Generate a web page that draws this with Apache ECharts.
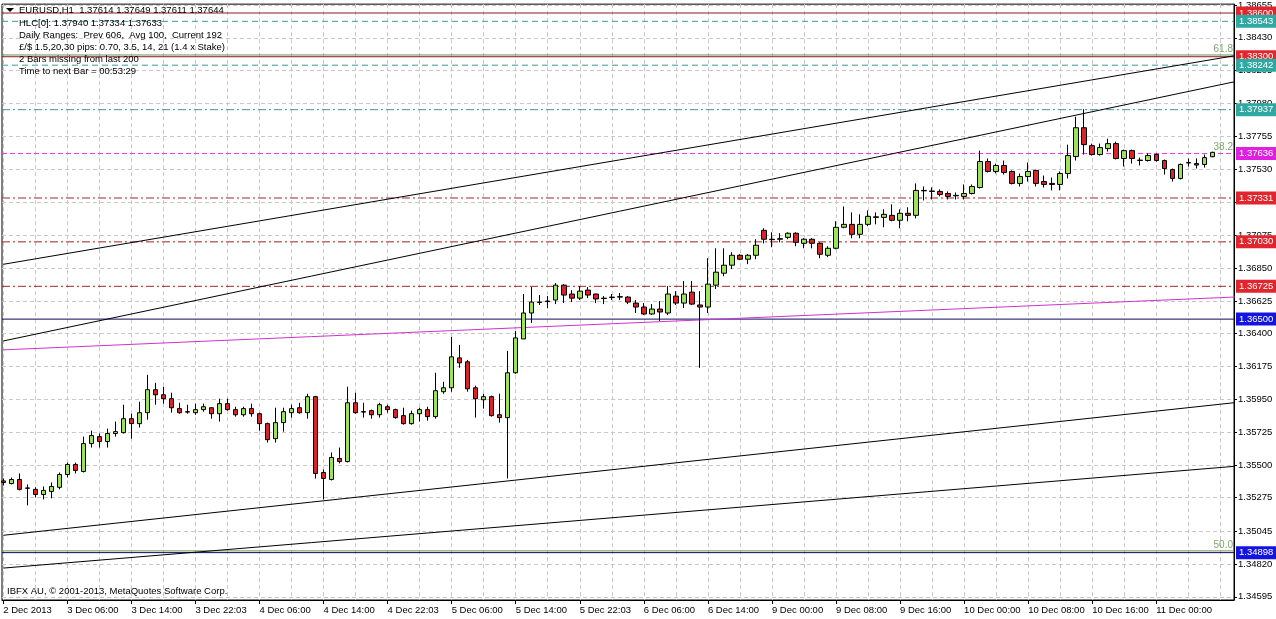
<!DOCTYPE html>
<html><head><meta charset="utf-8">
<script src="https://cdn.jsdelivr.net/npm/echarts@6/dist/echarts.min.js"></script>
<style>html,body{margin:0;padding:0;background:#fff}#c{width:1276px;height:619px}</style>
</head><body><div id="c"></div>
<script>
// ---- data ----
const xTickIndex = [0,8,16,24,32,40,48,56,64,72,80,88,96,104,112,120,128,136,144];
const xTickLabels = ['2 Dec 2013','3 Dec 06:00','3 Dec 14:00','3 Dec 22:03','4 Dec 06:00','4 Dec 14:00','4 Dec 22:03','5 Dec 06:00','5 Dec 14:00','5 Dec 22:03','6 Dec 06:00','6 Dec 14:00','9 Dec 00:00','9 Dec 08:00','9 Dec 16:00','10 Dec 00:00','10 Dec 08:00','10 Dec 16:00','11 Dec 00:00'];
const yTickLabels = ['1.38655','1.38430','1.38205','1.37980','1.37755','1.37530','1.37305','1.37075','1.36850','1.36625','1.36400','1.36175','1.35950','1.35725','1.35500','1.35275','1.35045','1.34820','1.34595'];
// [open, close, low, high] hourly EURUSD
const candles = [
[1.35390,1.35379,1.35359,1.35407],[1.35372,1.35400,1.35366,1.35413],[1.35400,1.35332,1.35325,1.35441],[1.35339,1.35342,1.35222,1.35366],
[1.35332,1.35297,1.35277,1.35346],[1.35297,1.35325,1.35263,1.35352],[1.35318,1.35352,1.35270,1.35379],[1.35346,1.35434,1.35332,1.35448],
[1.35434,1.35503,1.35414,1.35516],[1.35503,1.35462,1.35441,1.35516],[1.35455,1.35646,1.35448,1.35694],[1.35646,1.35701,1.35619,1.35735],
[1.35694,1.35660,1.35619,1.35715],[1.35660,1.35715,1.35619,1.35749],[1.35715,1.35728,1.35694,1.35797],[1.35721,1.35817,1.35715,1.35913],
[1.35817,1.35783,1.35680,1.35851],[1.35783,1.35858,1.35756,1.35933],[1.35858,1.36016,1.35810,1.36118],[1.36016,1.35981,1.35913,1.36063],
[1.35981,1.35954,1.35920,1.36036],[1.35954,1.35892,1.35858,1.35995],[1.35886,1.35858,1.35851,1.35926],[1.35865,1.35862,1.35851,1.35913],
[1.35858,1.35879,1.35844,1.35920],[1.35879,1.35899,1.35865,1.35920],[1.35892,1.35851,1.35817,1.35895],[1.35851,1.35920,1.35797,1.35954],
[1.35920,1.35879,1.35872,1.35954],[1.35879,1.35844,1.35831,1.35899],[1.35844,1.35886,1.35831,1.35899],[1.35886,1.35851,1.35831,1.35920],
[1.35851,1.35783,1.35735,1.35858],[1.35783,1.35673,1.35653,1.35790],[1.35680,1.35790,1.35653,1.35892],[1.35790,1.35865,1.35728,1.35892],
[1.35858,1.35886,1.35824,1.35913],[1.35892,1.35858,1.35851,1.35926],[1.35858,1.35968,1.35817,1.35988],[1.35968,1.35441,1.35407,1.35974],
[1.35448,1.35407,1.35263,1.35468],[1.35400,1.35551,1.35393,1.35585],[1.35544,1.35523,1.35510,1.35619],[1.35523,1.35926,1.35516,1.36036],
[1.35926,1.35858,1.35851,1.35995],[1.35865,1.35862,1.35824,1.35926],[1.35872,1.35844,1.35817,1.35879],[1.35844,1.35913,1.35824,1.35926],
[1.35899,1.35879,1.35858,1.35913],[1.35879,1.35824,1.35817,1.35886],[1.35838,1.35783,1.35776,1.35892],[1.35783,1.35851,1.35776,1.35872],
[1.35851,1.35879,1.35797,1.35892],[1.35879,1.35831,1.35803,1.35899],[1.35831,1.36009,1.35817,1.36132],[1.36002,1.36029,1.35988,1.36070],
[1.36029,1.36241,1.36002,1.36378],[1.36234,1.36200,1.36166,1.36323],[1.36207,1.36022,1.36002,1.36220],[1.36029,1.35954,1.35824,1.36043],
[1.35947,1.35968,1.35886,1.35988],[1.35968,1.35838,1.35831,1.35975],[1.35844,1.35824,1.35790,1.35988],[1.35824,1.36132,1.35407,1.36282],
[1.36132,1.36371,1.36125,1.36419],[1.36364,1.36542,1.36364,1.36672],[1.36542,1.36617,1.36474,1.36720],[1.36617,1.36614,1.36597,1.36665],
[1.36624,1.36620,1.36576,1.36658],[1.36631,1.36733,1.36603,1.36747],[1.36733,1.36665,1.36610,1.36740],[1.36672,1.36644,1.36617,1.36699],
[1.36644,1.36692,1.36631,1.36726],[1.36699,1.36665,1.36644,1.36720],[1.36672,1.36638,1.36610,1.36675],[1.36644,1.36641,1.36603,1.36658],
[1.36651,1.36648,1.36631,1.36672],[1.36651,1.36654,1.36631,1.36679],[1.36651,1.36617,1.36603,1.36658],[1.36610,1.36583,1.36542,1.36631],
[1.36583,1.36535,1.36528,1.36610],[1.36535,1.36569,1.36528,1.36603],[1.36569,1.36549,1.36487,1.36624],[1.36542,1.36672,1.36528,1.36726],
[1.36658,1.36610,1.36597,1.36692],[1.36610,1.36672,1.36576,1.36761],[1.36685,1.36603,1.36597,1.36761],[1.36597,1.36583,1.36166,1.36692],
[1.36583,1.36740,1.36542,1.36918],[1.36733,1.36822,1.36706,1.36986],[1.36815,1.36870,1.36795,1.36986],[1.36870,1.36938,1.36843,1.36959],
[1.36938,1.36911,1.36904,1.36945],[1.36911,1.36938,1.36877,1.36945],[1.36938,1.37007,1.36911,1.37048],[1.37109,1.37048,1.37020,1.37123],
[1.37048,1.37045,1.36993,1.37096],[1.37048,1.37052,1.37027,1.37089],[1.37061,1.37089,1.37048,1.37096],[1.37089,1.37027,1.37000,1.37096],
[1.37020,1.37048,1.36986,1.37055],[1.37048,1.37020,1.36986,1.37055],[1.37020,1.36945,1.36918,1.37027],[1.36938,1.36986,1.36925,1.37000],
[1.36986,1.37130,1.36979,1.37171],[1.37130,1.37150,1.37123,1.37273],[1.37150,1.37082,1.37055,1.37232],[1.37082,1.37150,1.37055,1.37219],
[1.37150,1.37205,1.37137,1.37246],[1.37198,1.37202,1.37150,1.37232],[1.37198,1.37219,1.37130,1.37253],[1.37212,1.37178,1.37171,1.37287],
[1.37178,1.37226,1.37123,1.37253],[1.37226,1.37212,1.37171,1.37267],[1.37212,1.37383,1.37191,1.37431],[1.37383,1.37380,1.37314,1.37410],
[1.37376,1.37379,1.37321,1.37404],[1.37376,1.37355,1.37342,1.37390],[1.37362,1.37342,1.37321,1.37376],[1.37349,1.37346,1.37321,1.37369],
[1.37342,1.37362,1.37321,1.37424],[1.37362,1.37410,1.37355,1.37424],[1.37403,1.37581,1.37396,1.37656],[1.37581,1.37513,1.37506,1.37602],
[1.37513,1.37554,1.37499,1.37567],[1.37554,1.37506,1.37492,1.37588],[1.37513,1.37431,1.37424,1.37520],[1.37431,1.37478,1.37410,1.37499],
[1.37478,1.37513,1.37444,1.37574],[1.37520,1.37431,1.37410,1.37526],[1.37444,1.37424,1.37403,1.37485],[1.37431,1.37424,1.37383,1.37472],
[1.37424,1.37499,1.37383,1.37513],[1.37499,1.37622,1.37465,1.37697],[1.37615,1.37813,1.37588,1.37889],[1.37813,1.37697,1.37629,1.37940],
[1.37690,1.37629,1.37622,1.37704],[1.37629,1.37677,1.37622,1.37704],[1.37670,1.37704,1.37649,1.37738],[1.37704,1.37602,1.37595,1.37718],
[1.37602,1.37656,1.37547,1.37663],[1.37656,1.37602,1.37567,1.37663],[1.37588,1.37591,1.37554,1.37608],[1.37588,1.37622,1.37581,1.37636],
[1.37629,1.37588,1.37581,1.37636],[1.37588,1.37533,1.37492,1.37595],[1.37526,1.37465,1.37444,1.37533],[1.37465,1.37561,1.37458,1.37567],
[1.37571,1.37574,1.37547,1.37602],[1.37567,1.37557,1.37533,1.37602],[1.37561,1.37608,1.37540,1.37629],[1.37614,1.37644,1.37611,1.37649]
];
// horizontal price levels
const levelPrices = [1.38600,1.38543,1.38300,1.38242,1.37937,1.37636,1.37331,1.37030,1.36725,1.36500,1.34898];
const levelKinds  = ['redSolid','teal','redSolid','teal','tealDot','magenta','redDot','redDot','redDot','navy','navy'];
// fibonacci level marks
const fibPrices = [1.38312,1.37640,1.34910];
const fibLabels = ['61.8','38.2','50.0'];
const fibLineShown = [true,false,true];
// trend lines: [barIndex, price] endpoints
const trendUpper1 = [[0,1.36876],[154,1.38309]];
const trendUpper2 = [[0,1.36350],[154,1.38131]];
const trendMagenta = [[0,1.36289],[154,1.36652]];
const trendLower1 = [[0,1.35017],[154,1.35928]];
const trendLower2 = [[0,1.34792],[154,1.35491]];
const infoLines = [
 'EURUSD,H1  1.37614 1.37649 1.37611 1.37644',
 'HLC[0]: 1.37940 1.37334 1.37633',
 'Daily Ranges:  Prev 606,  Avg 100,  Current 192',
 '\u00a3/$ 1.5,20,30 pips: 0.70, 3.5, 14, 21 (1.4 x Stake)',
 '2 Bars missing from last 200',
 'Time to next Bar = 00:53:29'
];
const copyright = 'IBFX AU, \u00a9 2001-2013, MetaQuotes Software Corp.';

// ---- styles ----
const FONT = 'Liberation Sans';
const FS = 9.5;
const kindStyle = {
  redSolid: {line:{color:'#8B1E1E', type:'solid', width:1}, box:'#E0262C'},
  teal:     {line:{color:'#3C9A96', type:[6,4], width:1}, box:'#2FA8A2'},
  tealDot:  {line:{color:'#3C9A96', type:[8,3,2,3], width:1}, box:'#2FA8A2'},
  magenta:  {line:{color:'#E040E0', type:[5,3], width:1}, box:'#E020E0'},
  redDot:   {line:{color:'#9E2626', type:[8,3,2,3], width:1}, box:'#E0262C'},
  navy:     {line:{color:'#0A0A60', type:'solid', width:1}, box:'#1414E0'}
};
const yMin = 1.34573, yMax = 1.38661;
const xMin = -0.16, xMax = 153.71;
const xGridIndex = []; for (let i = 0; i <= 152; i += 4) xGridIndex.push(i);
const yTickValues = yTickLabels.map(Number);

const levelSeries = levelPrices.map((p, k) => {
  const s = kindStyle[levelKinds[k]];
  return {
    type:'line', xAxisIndex:0, yAxisIndex:0, symbol:'none', silent:true, z:2, animation:false,
    color: s.line.color,
    data:[[xMin, p],[xMax, p]],
    lineStyle: s.line,
    endLabel: {show:true, distance:2, formatter: p.toFixed(5), color:'#fff',
      backgroundColor: s.box, padding:[2,3,1,3], fontFamily: FONT, fontSize: FS, lineHeight: 10}
  };
});
// fib lines (only those visible in the picture)
const fibLineSeries = fibPrices.filter((p, k) => fibLineShown[k]).map(p => ({
  type:'line', xAxisIndex:0, yAxisIndex:0, symbol:'none', silent:true, z:1, animation:false,
  color:'#6E8F5A', data:[[xMin, p],[xMax, p]], lineStyle:{color:'#6E8F5A', width:1}
}));
// fib labels as a text-only scatter
const fibLabelSeries = {
  type:'scatter', xAxisIndex:0, yAxisIndex:0, symbolSize:0, silent:true, z:4, animation:false,
  data: fibPrices.map((p, k) => ({value:[xMax, p], name: fibLabels[k]})),
  label:{show:true, position:'top', align:'right', distance:1, offset:[-1,0], formatter: '{b}',
    color:'#5E8C45', fontFamily: FONT, fontSize: FS+0.5}
};

function trend(data, color) {
  return {type:'line', xAxisIndex:0, yAxisIndex:0, data, symbol:'none', silent:true, z:2, color,
    lineStyle:{color, width:1}, clip:true, animation:false};
}

const chart = echarts.init(document.getElementById('c'));
chart.setOption({
  animation:false,
  backgroundColor:'#fff',
  grid:{left:2, right:42, top:2, bottom:19, show:true, borderColor:'#000', borderWidth:1, backgroundColor:'#fff'},
  xAxis:[{
    type:'value', min:xMin, max:xMax, position:'bottom',
    axisLine:{show:true, onZero:false, lineStyle:{color:'#000'}},
    axisTick:{show:false, customValues:xGridIndex},
    axisLabel:{customValues:xTickIndex, align:'left', margin:5, color:'#000', fontFamily:FONT, fontSize:FS,
      formatter: v => xTickLabels[xTickIndex.indexOf(Math.round(v))] || ''},
    splitLine:{show:true, lineStyle:{color:'#C8C8C8', type:[4,3]}}
  },{
    type:'value', min:xMin, max:xMax, position:'bottom',
    axisLine:{show:false},
    axisTick:{show:true, customValues:xTickIndex, length:4, lineStyle:{color:'#000'}},
    axisLabel:{show:false}, splitLine:{show:false}
  }],
  yAxis:[{
    type:'value', min:yMin, max:yMax, position:'right',
    axisLine:{show:true, onZero:false, lineStyle:{color:'#000'}},
    axisTick:{show:true, length:3, customValues:yTickValues, lineStyle:{color:'#000'}},
    axisLabel:{customValues:yTickValues, margin:4, color:'#000', fontFamily:FONT, fontSize:FS,
      formatter: v => v.toFixed(5)},
    splitLine:{show:true, lineStyle:{color:'#C8C8C8', type:[4,3]}}
  }],
  series:[
    ...fibLineSeries,
    ...levelSeries,
    fibLabelSeries,
    trend(trendUpper1, '#000'),
    trend(trendUpper2, '#000'),
    trend(trendMagenta, '#CC33CC'),
    trend(trendLower1, '#000'),
    trend(trendLower2, '#000'),
    {type:'candlestick', xAxisIndex:0, yAxisIndex:0, z:3, barWidth:5,
      data: candles.map((c, i) => [i, c[0], c[1], c[2], c[3]]),
      encode:{x:0, y:[1,2,3,4]},
      itemStyle:{color:'#9CE25A', color0:'#D9232B', borderColor:'#000', borderColor0:'#000', borderWidth:1}}
  ],
  graphic:[
    {type:'polygon', shape:{points:[[6,8],[14,8],[10,12]]}, style:{fill:'#000'}, z:10},
    ...infoLines.map((t, k) => ({type:'text', z:10, style:{text:t, x:19, y:[10,23,35,47,59,71][k],
      fill:'#000', font: FS + 'px "' + FONT + '"', verticalAlign:'middle'}})),
    {type:'text', z:10, style:{text:copyright, x:7, y:591, fill:'#000', font: FS + 'px "' + FONT + '"', verticalAlign:'middle'}}
  ]
});
</script></body></html>
